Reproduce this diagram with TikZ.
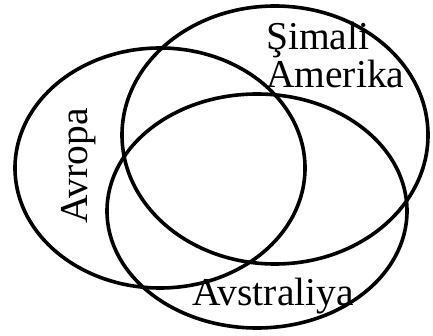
\documentclass[tikz,border=0pt]{standalone}
\usepackage{fontspec}
\setmainfont{Liberation Serif}
\usetikzlibrary{positioning}

\tikzset{
  setline/.style={line width=3.6pt},
  setlabel/.style={inner sep=0pt, font=\fontsize{39.5}{42}\selectfont}
}

\begin{document}
\begin{tikzpicture}[x=1pt, y=-1pt]
  \useasboundingbox (0,0) rectangle (433,336);
  % the three sets
  \draw[setline] (160,168) ellipse [x radius=145pt, y radius=120pt];
  \draw[setline] (275,135) ellipse [x radius=153pt, y radius=129pt];
  \draw[setline] (257,211) ellipse [x radius=150pt, y radius=117pt];
  % set names
  \node[setlabel, rotate=90, anchor=base] (avropa) at (87,166) {Avropa};
  \node[setlabel, anchor=base west] (simali) at (266,50) {Şimali};
  \node[setlabel, anchor=base west] (amerika) at (266,88) {Amerika};
  \node[setlabel, anchor=base] (avstraliya) at (273,305) {Avstraliya};
\end{tikzpicture}
\end{document}
